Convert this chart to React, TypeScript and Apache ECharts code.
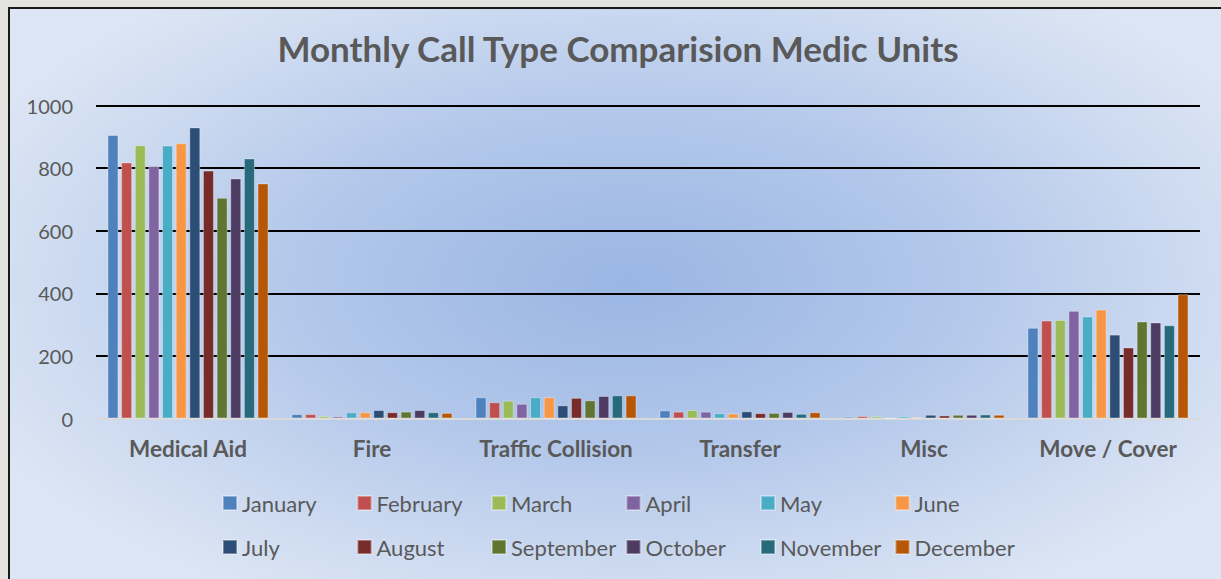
import React, { useEffect, useRef } from "react";
import * as echarts from "echarts";

const categories = ["Medical Aid", "Fire", "Traffic Collision", "Transfer", "Misc", "Move / Cover"];
const months = ["January", "February", "March", "April", "May", "June", "July", "August", "September", "October", "November", "December"];
const monthColors = ["#4f81bd", "#c0504d", "#9bbb59", "#8064a2", "#4bacc6", "#f79646", "#2c4d75", "#772c2a", "#5f7530", "#4d3b62", "#276a7c", "#b65708"];

const medicalAid = [906, 818, 873, 807, 872, 879, 930, 792, 705, 767, 831, 751];
const fire = [14, 14, 8, 7, 20, 20, 27, 20, 22, 27, 20, 18];
const trafficCollision = [68, 52, 57, 47, 68, 68, 42, 66, 58, 72, 74, 74];
const transfer = [26, 22, 27, 22, 17, 16, 23, 17, 18, 21, 15, 20];
const misc = [6, 8, 7, 1, 7, 4, 12, 10, 12, 12, 13, 12];
const moveCover = [290, 313, 315, 344, 326, 348, 268, 227, 310, 307, 298, 397];

const yTicks = [0, 200, 400, 600, 800, 1000];

const FONT = "Lato, 'Open Sans', sans-serif";

export default function App() {
  const ref = useRef<HTMLDivElement>(null);

  useEffect(() => {
    if (!ref.current) return;
    const chart = echarts.init(ref.current, undefined, { renderer: "svg" });
    const byCategory = [medicalAid, fire, trafficCollision, transfer, misc, moveCover];

    const series = months.map((m, i) => ({
      name: m,
      type: "bar",
      barWidth: 11,
      barGap: "24%",
      itemStyle: { color: monthColors[i], borderColor: "rgba(255,255,255,0.35)", borderWidth: 1 },
      data: byCategory.map((arr) => arr[i]),
    }));

    const legendCommon = {
      left: 212,
      padding: 0,
      orient: "horizontal",
      itemWidth: 14,
      itemHeight: 14,
      itemGap: 9,
      icon: "rect",
      textStyle: { fontFamily: FONT, fontSize: 22, color: "#595959", width: 105.5, lineHeight: 24 },
    };

    chart.setOption({
      animation: false,
      backgroundColor: "transparent",
      title: {
        text: "Monthly Call Type Comparision Medic Units",
        left: 603,
        top: 16,
        textAlign: "center",
        textStyle: { fontFamily: FONT, fontSize: 35, fontWeight: "bold", color: "#595959" },
      },
      legend: [
        { ...legendCommon, top: 482, data: months.slice(0, 6) },
        { ...legendCommon, top: 526, data: months.slice(6) },
      ],
      grid: { left: 86, right: 21, top: 96.5, bottom: 160.5, containLabel: false },
      xAxis: {
        type: "category",
        data: categories,
        axisLine: { show: true, lineStyle: { color: "#d9d9d9", width: 2 } },
        axisTick: { show: false },
        axisLabel: { interval: 0, fontFamily: FONT, fontSize: 22.5, fontWeight: "bold", color: "#595959", margin: 18 },
      },
      yAxis: {
        type: "value",
        min: 0,
        max: 1000,
        interval: 200,
        axisLine: { show: false },
        axisTick: { show: false },
        axisLabel: {
          fontFamily: FONT,
          fontSize: 20,
          color: "#595959",
          margin: 23,
          formatter: (v: number) => (yTicks.includes(v) ? String(v) : ""),
        },
        splitLine: {
          show: true,
          lineStyle: { color: ["transparent", "#000", "#000", "#000", "#000", "#000"], width: 2 },
        },
      },
      series,
    });
    return () => chart.dispose();
  }, []);

  return (
    <div
      style={{
        position: "fixed",
        left: 0,
        top: 0,
        width: 1221,
        height: 579,
        background: "#e3e3e0",
        overflow: "hidden",
      }}
    >
      <div
        style={{
          position: "absolute",
          left: 8,
          top: 7,
          width: 1211,
          height: 570,
          borderLeft: "2px solid #1a1a1a",
          borderTop: "2px solid #1a1a1a",
          background:
            "radial-gradient(ellipse 60% 65% at 51% 48%, #9ab6e3 0%, #b2c7ea 45%, #cbd9f0 75%, #dde6f4 100%)",
        }}
      >
        <div ref={ref} style={{ width: 1211, height: 570 }} />
      </div>
    </div>
  );
}
